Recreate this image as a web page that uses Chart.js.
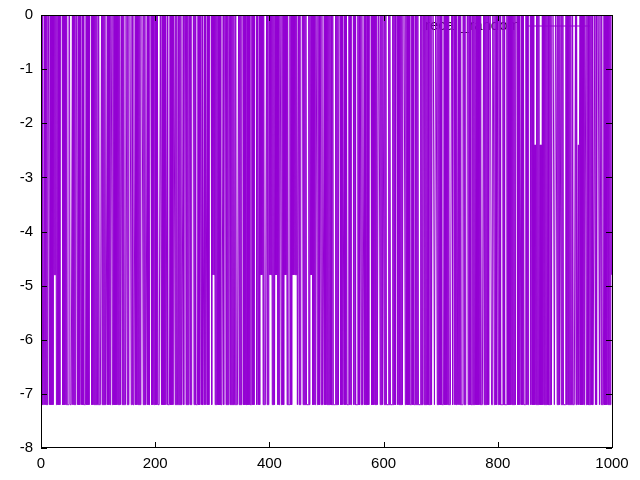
<!DOCTYPE html>
<html>
<head>
<meta charset="utf-8">
<script src="https://cdn.jsdelivr.net/npm/chart.js@4/dist/chart.umd.min.js"></script>
<style>
  html, body { margin: 0; padding: 0; background: #fff; }
  #wrap { width: 640px; height: 480px; }
</style>
</head>
<body>
<div id="wrap"><canvas id="chart"></canvas></div>
<script>
// series name shown in the key
const seriesName = 'recall_random';

// value levels the series steps between
const levels = [0, -2.4, -4.8, -7.2];

// one digit per sample (index into levels), x = 0 .. 999
const sampleCodes = [
  '0303330303 0300030303 0302020303 0303000030 3030303330',
  '0333303030 3000303030 0303033330 3030300003 0303030303',
  '3033330303 0303330303 0300030303 0303030303 3030303330',
  '0303000030 0333303030 3030300003 0303330303 3000303030',
  '0303033330 0303030303 3033330303 0300030303 3030303330',
  '3000303030 0303000030 0333303030 0303330303 3030300003',
  '0202030303 0303033330 3000303030 0303030303 3033330303',
  '0300030303 3030303330 0303000030 0303020203 0333303030',
  '0202030303 0202030300 0303030202 0303330303 0202020203',
  '3030300003 0303033330 3020203030 3000303030 0303330303',
  '0303030303 3033330303 0300030303 3030303330 0303000030',
  '0333303030 0303330303 3030300003 0303030303 3000303030',
  '0303033330 3033330303 0300030303 0303000030 3030303330',
  '0303330303 0333303030 0303030303 3030300003 3000303030',
  '3033330303 0303033330 0300030303 3030303330 0303000030',
  '0303330303 0303030303 0333303030 3030300003 3000303030',
  '0303033330 3033330303 0303030303 0300030303 3030303330',
  '0303000030 0303131303 0303131303 0303030303 3030300003',
  '3000303030 0303033330 0303030303 3033330303 3131030303',
  '0300030303 3030303330 0303000030 0303330303 0303030302'
].join('').replace(/ /g, '');

const xTicks = [0, 200, 400, 600, 800, 1000];
const yTicks = [0, -1, -2, -3, -4, -5, -6, -7, -8];

const points = sampleCodes.split('').map(function(c, i) {
  return { x: i, y: levels[+c] };
});

const lineColor = '#9400d3';
const fontFamily = '"Liberation Sans", Arial, sans-serif';

// gnuplot-like frame: border, inward ticks mirrored on all sides, key entry
const framePlugin = {
  id: 'frame',
  beforeDatasetsDraw: function(chart) {
    const ctx = chart.ctx;
    const a = chart.chartArea;
    ctx.save();
    ctx.font = '15px ' + fontFamily;
    ctx.fillStyle = '#000';
    ctx.textAlign = 'right';
    ctx.textBaseline = 'middle';
    ctx.fillText(seriesName, a.right - 92, a.top + 11);
    ctx.restore();
  },
  afterDatasetsDraw: function(chart) {
    const ctx = chart.ctx;
    const a = chart.chartArea;
    const xs = chart.scales.x;
    const ys = chart.scales.y;
    ctx.save();
    // key sample line
    ctx.strokeStyle = lineColor;
    ctx.lineWidth = 1;
    ctx.beginPath();
    ctx.moveTo(a.right - 84, a.top + 11);
    ctx.lineTo(a.right - 22, a.top + 11);
    ctx.stroke();

    ctx.strokeStyle = '#000';
    ctx.lineWidth = 1;
    ctx.strokeRect(a.left + 0.5, a.top + 0.5, a.right - a.left, a.bottom - a.top - 1);
    ctx.beginPath();
    xTicks.forEach(function(v) {
      const px = Math.round(xs.getPixelForValue(v)) + 0.5;
      ctx.moveTo(px, a.bottom); ctx.lineTo(px, a.bottom - 6);
      ctx.moveTo(px, a.top); ctx.lineTo(px, a.top + 6);
    });
    yTicks.forEach(function(v) {
      const py = Math.round(ys.getPixelForValue(v)) + 0.5;
      ctx.moveTo(a.left, py); ctx.lineTo(a.left + 6, py);
      ctx.moveTo(a.right, py); ctx.lineTo(a.right - 6, py);
    });
    ctx.stroke();
    ctx.restore();
  }
};

new Chart(document.getElementById('chart').getContext('2d'), {
  type: 'line',
  data: {
    datasets: [{
      label: seriesName,
      data: points,
      borderColor: lineColor,
      borderWidth: 1,
      pointRadius: 0,
      tension: 0,
      fill: false
    }]
  },
  options: {
    responsive: true,
    maintainAspectRatio: false,
    animation: false,
    layout: { padding: { top: 15, right: 28, left: 0, bottom: 0 } },
    plugins: {
      legend: { display: false },
      tooltip: { enabled: false }
    },
    scales: {
      x: {
        type: 'linear',
        min: 0,
        max: 1000,
        afterFit: function(scale) {
          scale.height = 32;
          scale.paddingLeft = 0;
          scale.paddingRight = 0;
        },
        afterBuildTicks: function(scale) {
          scale.ticks = xTicks.map(function(v) { return { value: v }; });
        },
        grid: { display: false, drawTicks: false },
        border: { display: false },
        ticks: {
          color: '#000',
          padding: 7,
          maxRotation: 0,
          font: { family: fontFamily, size: 15 },
          callback: function(v) { return String(v); }
        }
      },
      y: {
        min: -8,
        max: 0,
        afterFit: function(scale) {
          scale.width = 41;
          scale.paddingTop = 0;
          scale.paddingBottom = 0;
        },
        afterBuildTicks: function(scale) {
          scale.ticks = yTicks.map(function(v) { return { value: v }; });
        },
        grid: { display: false, drawTicks: false },
        border: { display: false },
        ticks: {
          color: '#000',
          padding: 8,
          font: { family: fontFamily, size: 15 },
          callback: function(v) { return String(v); }
        }
      }
    }
  },
  plugins: [framePlugin]
});
</script>
</body>
</html>
